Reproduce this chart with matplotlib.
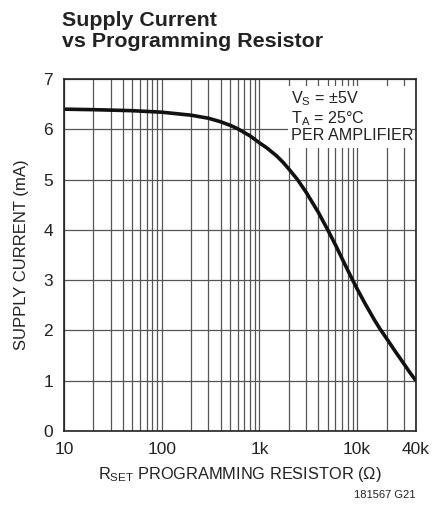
import numpy as np
import matplotlib
matplotlib.use('Agg')
import matplotlib.pyplot as plt
from matplotlib import font_manager
from matplotlib.patches import Rectangle

# 字体：窄体优先
fams = [f.name for f in font_manager.fontManager.ttflist]
narrow = 'Liberation Sans Narrow' if 'Liberation Sans Narrow' in fams else 'Liberation Sans'
plt.rcParams['font.family'] = [narrow, 'DejaVu Sans']
plt.rcParams['mathtext.fontset'] = 'custom'
plt.rcParams['mathtext.rm'] = narrow

# 数据
r_set = [10, 20, 50, 100, 200, 300, 400, 500, 600, 800, 1000, 1200, 1500, 1750, 2000,
         2450, 3000, 4000, 5000, 6000, 7000, 8000, 9000, 10000, 12000, 15000, 17000,
         20000, 25000, 30000, 35000, 40000]
i_supply = [6.40, 6.39, 6.37, 6.34, 6.28, 6.22, 6.15, 6.08, 6.01, 5.87, 5.73, 5.625, 5.47, 5.34, 5.21,
            5.00, 4.75, 4.35, 4.00, 3.70, 3.43, 3.20, 3.00, 2.825, 2.54, 2.21, 2.04,
            1.84, 1.56, 1.34, 1.15, 1.00]

x_ticks = [10, 100, 1000, 10000, 40000]
x_labels = ['10', '100', '1k', '10k', '40k']
y_ticks = [0, 1, 2, 3, 4, 5, 6, 7]

fig = plt.figure(figsize=(4.41, 5.08), dpi=100)
ax = fig.add_axes([64 / 441, 1 - 431 / 508, 352 / 441, 352 / 508])

ax.set_xscale('log')
ax.set_xlim(10, 40000)
ax.set_ylim(0, 7)

# 网格线
grid_x = [m * 10 ** e for e in range(1, 5) for m in range(1, 10) if m * 10 ** e <= 40000]
for gx in grid_x:
    ax.axvline(gx, color='#555555', lw=0.9, zorder=1)
for gy in y_ticks:
    ax.axhline(gy, color='#555555', lw=0.9, zorder=1)

ax.plot(r_set, i_supply, color='#111111', lw=2.6, zorder=4,
        solid_capstyle='butt', solid_joinstyle='round')

ax.set_xticks(x_ticks)
ax.set_xticklabels(x_labels)
ax.set_xticks([], minor=True)
ax.set_yticks(y_ticks)
ax.tick_params(length=0, labelsize=12.5, pad=8, colors='#222222')
for s in ax.spines.values():
    s.set_linewidth(1.2)
    s.set_color('#222222')
    s.set_zorder(6)

ax.set_ylabel('SUPPLY CURRENT (mA)', fontsize=12, labelpad=10, color='#222222')
ax.set_xlabel(r'R$_{\mathregular{SET}}$ PROGRAMMING RESISTOR ($\mathregular{\Omega}$)',
              fontsize=11.8, labelpad=6, color='#222222')

# 注释框
ax.add_patch(Rectangle((0.636, 0.804), 0.353, 0.176, transform=ax.transAxes,
                       facecolor='white', edgecolor='none', zorder=3))
ax.text(0.645, 0.97, 'V$_{\\mathregular{S}}$ = ±5V\nT$_{\\mathregular{A}}$ = 25°C\nPER AMPLIFIER',
        transform=ax.transAxes, ha='left', va='top', fontsize=11.6, color='#222222',
        linespacing=1.05, zorder=5)

fig.text(62 / 441, 1 - 11 / 508, 'Supply Current\nvs Programming Resistor',
         ha='left', va='top', fontsize=15.4, fontweight='bold', color='#222222',
         linespacing=1.15)
fig.text(415 / 441, 1 - 495 / 508, '181567 G21', ha='right', va='center',
         fontsize=8, color='#222222')

plt.savefig('out.png', dpi=100)
